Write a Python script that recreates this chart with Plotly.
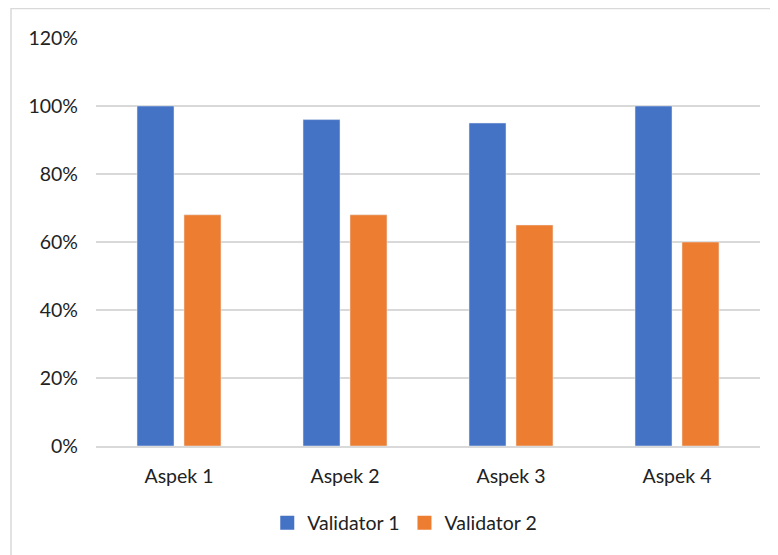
import plotly.graph_objects as go

categories = ["Aspek 1", "Aspek 2", "Aspek 3", "Aspek 4"]
validator1 = [100, 96, 95, 100]
validator2 = [68, 68, 65, 60]
series_names = ["Validator 1", "Validator 2"]
colors = ["#4472C4", "#ED7D31"]
tick_vals = [0, 20, 40, 60, 80, 100, 120]
tick_text = ["0%", "20%", "40%", "60%", "80%", "100%", "120%"]

font = dict(family="Lato, Carlito, Calibri, sans-serif", size=19.5, color="#222222")

fig = go.Figure()
for name, vals, col in zip(series_names, [validator1, validator2], colors):
    fig.add_trace(go.Bar(name=name, x=categories, y=vals, marker_color=col,
                         showlegend=False, legendgroup=name))
for name, col in zip(series_names, colors):
    fig.add_trace(go.Scatter(name=name, x=[None], y=[None], mode="markers",
                             marker=dict(symbol="square", size=14, color=col),
                             legendgroup=name, showlegend=True))

fig.update_layout(
    width=778, height=555,
    margin=dict(l=88, r=26, t=30, b=117),
    paper_bgcolor="white", plot_bgcolor="white",
    barmode="group", bargap=0.434, bargroupgap=0.213,
    font=font,
    showlegend=True,
    legend=dict(orientation="h", x=0.465, xanchor="center", y=-0.189, yanchor="middle",
                font=font, itemwidth=30),
    shapes=[dict(type="rect", xref="paper", yref="paper",
                 x0=-0.128, x1=1.1, y0=-0.4, y1=1.0723,
                 line=dict(color="#d9d9d9", width=1.5), fillcolor="rgba(0,0,0,0)", layer="below")],
)
fig.update_yaxes(range=[0, 120], tickvals=tick_vals, ticktext=tick_text,
                 showgrid=True, gridcolor="#d9d9d9", gridwidth=1.5,
                 zeroline=False, showline=False, ticks="", ticklabelstandoff=17)
fig.update_xaxes(showline=True, linecolor="#d9d9d9", linewidth=1.5, ticks="",
                 ticklabelstandoff=12)

fig.write_html("out.html")
